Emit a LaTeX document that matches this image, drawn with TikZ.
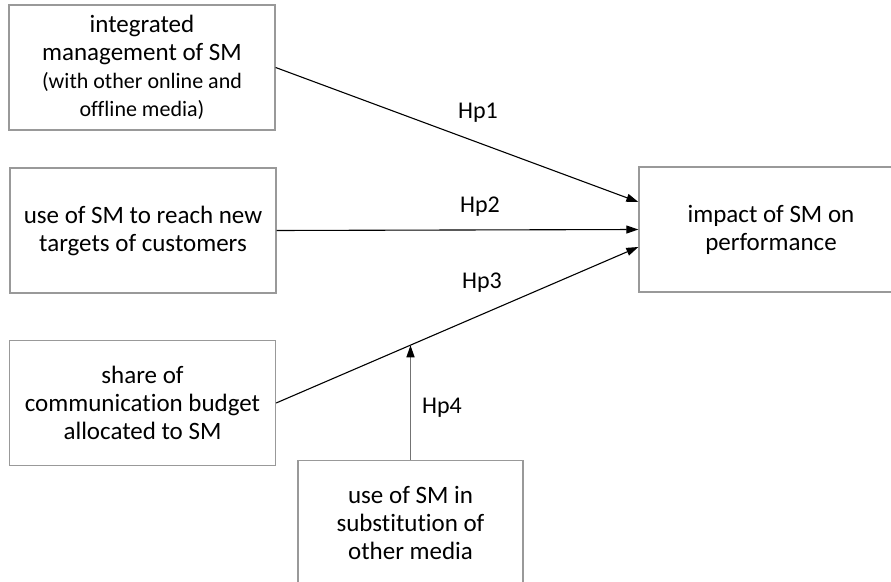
\documentclass[tikz,border=0pt]{standalone}
\usepackage{fontspec}
\setmainfont{Carlito}[Ligatures=NoCommon]
\usetikzlibrary{positioning, calc, arrows.meta}

\newcommand\smallfnt{\fontsize{22bp}{27bp}\selectfont}

\begin{document}
\begin{tikzpicture}[x=1bp, y=-1bp,
    box/.style={draw=black!40, line width=1.3bp, minimum width=266bp, minimum height=125bp,
        align=center, inner sep=0pt, font=\fontsize{25bp}{28bp}\selectfont},
    hp/.style={font=\fontsize{24bp}{28bp}\selectfont},
    link/.style={line width=1.1bp, -{Triangle[length=12bp, width=8bp, color=black]}}]
        \useasboundingbox (0,0) rectangle (891,582);
        \clip (0,0) rectangle (891,582);

        % the boxes
        \node[box] (integ)  at (142,67.5)  {integrated\\management of SM\\{\smallfnt (with other online and}\\{\smallfnt offline media)}};
        \node[box] (reach)  at (143,230.5) {use of SM to reach new\\targets of customers};
        \node[box] (budget) at (142.5,403) {share of\\communication budget\\allocated to SM};
        \node[box, minimum width=264bp] (perf) at (771,229.5) {impact of SM on\\performance};
        \node[box, minimum width=225bp, anchor=north] (subst) at (410.5,460) {use of SM in\\substitution of\\other media};

        % arrow ends on the target box
        \coordinate (p1) at ($ (perf.west)+(0,-27.5) $);
        \coordinate (p3) at ($ (perf.west)+(0,17.5) $);

        % the hypotheses
        \draw[link] (integ.east) -- (p1);
        \draw[link] (reach.east) -- (perf.west);
        \draw[link] (budget.east) -- (p3);

        % moderation
        \coordinate (j) at ($ (budget.east)!0.37!(p3) $);
        \draw[link, draw=black!55, line width=1.4bp] (subst.north) -- (subst.north |- j);

        % labels
        \node[hp] (hp1) at (478,113) {Hp1};
        \node[hp] (hp2) at (480,207) {Hp2};
        \node[hp] (hp3) at (482,283) {Hp3};
        \node[hp] (hp4) at (442,408) {Hp4};
\end{tikzpicture}
\end{document}
